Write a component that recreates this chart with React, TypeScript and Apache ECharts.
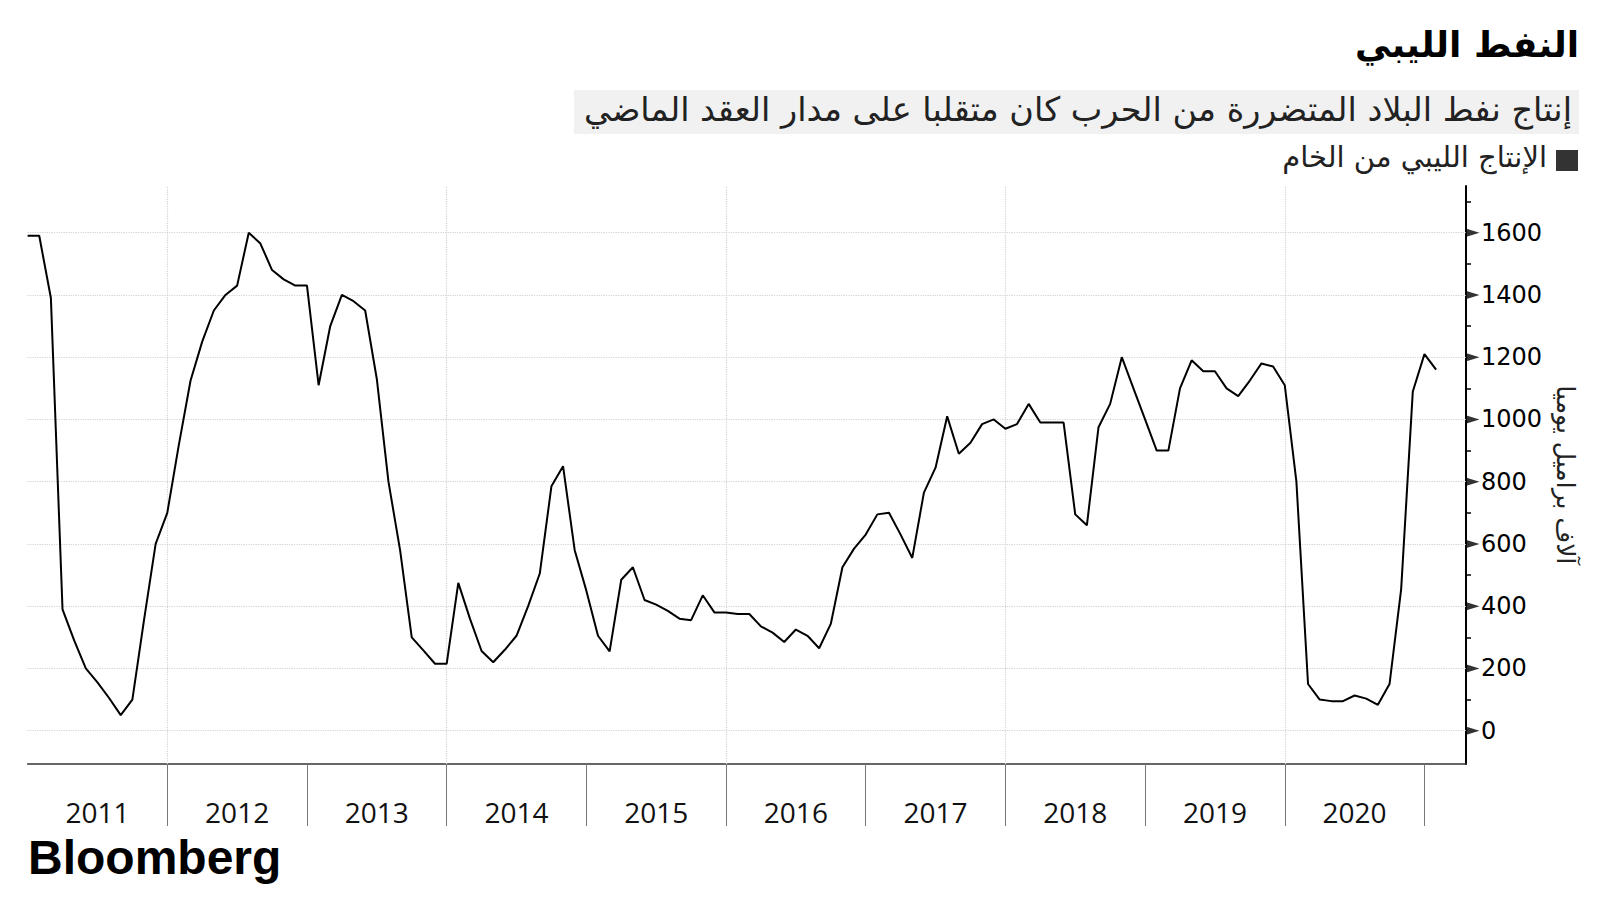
import React, { useEffect, useRef } from "react";
import * as echarts from "echarts";

// Libyan crude output, thousand barrels per day, monthly from Jan 2011 to Feb 2021
const startYear = 2011;
const production = [
  1590, 1590, 1390, 390, 290, 200, 155, 105, 50, 100, 355, 600,
  700, 920, 1125, 1250, 1350, 1400, 1430, 1600, 1565, 1480, 1450, 1430,
  1430, 1110, 1300, 1400, 1380, 1350, 1130, 800, 580, 300, 258, 215,
  215, 475, 360, 256, 220, 260, 305, 400, 505, 785, 850, 580,
  450, 305, 255, 485, 525, 420, 405, 385, 360, 355, 435, 380,
  380, 375, 375, 335, 315, 285, 325, 305, 265, 343, 525, 585,
  630, 695, 700, 630, 555, 765, 845, 1010, 890, 925, 985, 1000,
  970, 985, 1050, 990, 990, 990, 695, 660, 975, 1050, 1200, 1100,
  1000, 900, 900, 1100, 1190, 1155, 1155, 1100, 1075, 1125, 1180, 1170,
  1110, 800, 150, 100, 95, 95, 113, 103, 83, 150, 455, 1090,
  1210, 1160,
];
const yearLabels = ["2011", "2012", "2013", "2014", "2015", "2016", "2017", "2018", "2019", "2020"];
const yTicks = [0, 200, 400, 600, 800, 1000, 1200, 1400, 1600];
const yMinorTicks = [100, 300, 500, 700, 900, 1100, 1300, 1500, 1700];
const gridYears = ["2012", "2014", "2016", "2018", "2020"];

const title = "النفط الليبي";
const subtitle = "إنتاج نفط البلاد المتضررة من الحرب كان متقلبا على مدار العقد الماضي";
const legendName = "الإنتاج الليبي من الخام";
const yAxisName = "آلاف براميل يوميا";

const X_MAX = 123.57;
const Y_MIN = -107;
const Y_MAX = 1750;

export default function App() {
  const ref = useRef<HTMLDivElement>(null);

  useEffect(() => {
    document.body.style.margin = "0";
    if (!ref.current) return;
    const chart = echarts.init(ref.current, null, { renderer: "svg" });

    const yearIndex = (y: string) => (parseInt(y, 10) - startYear) * 12;
    const dividerValues = yearLabels.slice(1).map(yearIndex).concat([yearIndex(String(startYear + yearLabels.length))]);
    const labelValues = yearLabels.map((y) => yearIndex(y) + 6);

    const arabicFont = "DejaVu Sans";

    chart.setOption({
      animation: false,
      backgroundColor: "#ffffff",
      grid: { left: 27.6, right: 134, top: 186, bottom: 136, containLabel: false },
      xAxis: {
        type: "value",
        min: 0,
        max: X_MAX,
        interval: 12,
        position: "bottom",
        axisLine: { show: true, onZero: false, lineStyle: { color: "#333", width: 1.5 } },
        axisTick: {
          show: true,
          customValues: dividerValues,
          length: 62,
          lineStyle: { color: "#777", width: 1 },
        },
        axisLabel: {
          show: true,
          customValues: labelValues,
          formatter: (v: number) => String(startYear + Math.floor(v / 12)),
          margin: 34,
          fontFamily: "Open Sans",
          fontSize: 28,
          color: "#111",
        },
        splitLine: { show: false },
      },
      yAxis: {
        type: "value",
        position: "right",
        min: Y_MIN,
        max: Y_MAX,
        axisLine: { show: true, onZero: false, lineStyle: { color: "#000", width: 2 } },
        axisTick: {
          show: true,
          customValues: yMinorTicks,
          length: 5,
          lineStyle: { color: "#000", width: 1.5 },
        },
        axisLabel: {
          show: true,
          customValues: yTicks,
          formatter: (v: number) => String(v),
          margin: 15,
          fontFamily: "DejaVu Sans",
          fontSize: 24,
          color: "#000",
        },
        splitLine: { show: false },
        name: yAxisName,
        nameLocation: "middle",
        nameRotate: -90,
        nameGap: 75,
        nameTextStyle: { fontFamily: arabicFont, fontSize: 25, color: "#222" },
      },
      series: [
        {
          type: "line",
          data: production.map((v, i) => [i, v]),
          showSymbol: false,
          lineStyle: { color: "#000", width: 2 },
          z: 5,
          markLine: {
            silent: true,
            symbol: ["none", "none"],
            label: { show: false },
            lineStyle: { color: "#d2d2d2", type: "dotted", width: 1.2 },
            data: [
              ...yTicks.map((v) => ({ yAxis: v })),
              ...gridYears.map((y) => ({ xAxis: yearIndex(y) })),
            ],
            z: 1,
          },
        },
        {
          type: "scatter",
          data: yTicks.map((v) => [X_MAX, v]),
          symbol: "triangle",
          symbolSize: [8, 13],
          symbolRotate: -90,
          symbolOffset: [7, 0],
          itemStyle: { color: "#000" },
          clip: false,
          silent: true,
          z: 10,
        },
      ],
      graphic: [
        {
          type: "text",
          right: 21,
          top: 26,
          style: {
            text: title,
            font: `bold 36px "${arabicFont}"`,
            fill: "#000",
          },
        },
        {
          type: "rect",
          shape: { x: 574, y: 90, width: 1005, height: 44 },
          style: { fill: "#f1f1f1" },
        },
        {
          type: "text",
          right: 28,
          top: 92,
          style: {
            text: subtitle,
            font: `33.5px "${arabicFont}"`,
            fill: "#222",
          },
        },
        {
          type: "rect",
          shape: { x: 1556, y: 150, width: 22, height: 21 },
          style: { fill: "#333" },
        },
        {
          type: "text",
          right: 53,
          top: 142,
          style: {
            text: legendName,
            font: `29px "${arabicFont}"`,
            fill: "#222",
          },
        },
        {
          type: "text",
          left: 28,
          top: 833,
          style: {
            text: "Bloomberg",
            font: `bold 48px "Liberation Sans"`,
            fill: "#000",
          },
        },
      ],
    });

    return () => chart.dispose();
  }, []);

  return <div ref={ref} style={{ width: 1600, height: 900 }} />;
}
